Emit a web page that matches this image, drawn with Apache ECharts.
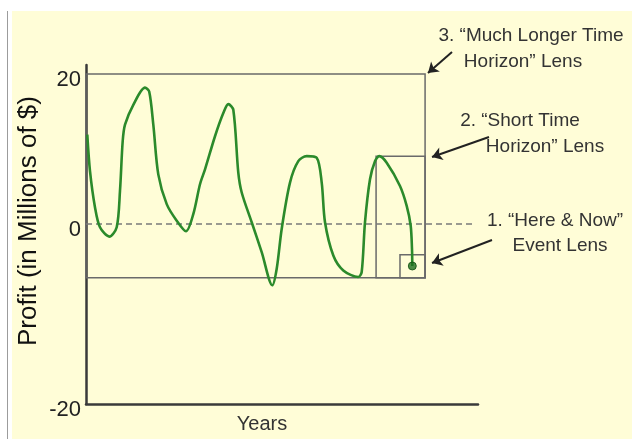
<!DOCTYPE html>
<html><head><meta charset="utf-8">
<script src="https://cdn.jsdelivr.net/npm/echarts@6/dist/echarts.min.js"></script>
<style>html,body{margin:0;padding:0;background:#fff}#c{width:632px;height:439px}</style>
</head><body><div id="c"></div><script>
// Curve: years (arbitrary units along axis) and profit (millions $)
const years = [0.33,1.02,2.30,3.57,5.94,7.83,8.67,9.36,9.95,12.07,15.05,16.12,17.17,18.44,20.59,23.14,25.51,27.37,29.08,30.36,32.91,35.03,36.30,37.58,38.85,39.72,42.27,44.82,47.53,48.65,49.92,52.04,54.16,56.30,58.85,60.13,60.97,63.09,65.64,69.46,70.33,71.17,72.45,73.72,74.82,76.71,80.10,81.81,82.83,83.16,83.24];
const profit = [11.92,7.06,2.21,-0.44,-1.68,-0.44,4.41,11.03,13.25,15.89,18.19,17.66,13.25,6.62,2.65,0.44,-0.97,1.32,5.30,7.28,11.70,14.79,15.99,15.23,6.85,4.20,0.23,-3.75,-8.17,-5.96,-0.66,5.52,8.38,9.05,8.83,5.52,0.23,-4.20,-6.19,-7.06,-6.40,0.23,5.96,8.38,9.05,8.17,5.07,2.42,-0.23,-3.31,-5.60];

// Y axis tick values / labels (schematic axis)
const yTickValues = [20, 0, -24];
const yTickLabels = ['20', '0', '-20'];

// Lens boxes
const lensX0 = [0, 74.0, 80.1];
const lensX1 = [86.5, 86.5, 86.5];
const lensY0 = [-7.15, -7.15, -7.15];
const lensY1 = [20, 9.05, -4.1];

// Zero reference line
const zeroLineEnd = 98.7;

// Arrows (annotation overlay coordinates)
const arrowFromX = [93.37, 102.81, 103.57];
const arrowFromY = [22.91, 11.66, -1.99];
const arrowToX = [87.24, 88.27, 88.27];
const arrowToY = [20.13, 9.01, -5.03];

// Annotation texts
const noteLines = ['3. \u201cMuch Longer Time', 'Horizon\u201d Lens', '2. \u201cShort Time', 'Horizon\u201d Lens', '1. \u201cHere & Now\u201d', 'Event Lens'];
const noteX = [531, 523, 520, 545, 555, 560];
const noteY = [36, 62, 121, 147, 221, 246];

const curve = years.map((x, i) => [x, profit[i]]);
const last = curve[curve.length - 1];

const chart = echarts.init(document.getElementById('c'), null, {renderer: 'canvas'});
const FONT = '"Liberation Sans", Arial, sans-serif';

const graphics = [
  {type: 'rect', shape: {x: 12, y: 11, width: 620, height: 428}, style: {fill: '#FFFDD7'}, z: -10, silent: true},
  {type: 'rect', shape: {x: 7, y: 11, width: 1, height: 428}, style: {fill: '#9c9c9c'}, z: -10, silent: true}
];
noteLines.forEach((t, i) => {
  graphics.push({type: 'text', x: noteX[i], y: noteY[i], style: {text: t, font: '19px ' + FONT, fill: '#333', align: 'center', verticalAlign: 'middle'}, silent: true});
});

chart.setOption({
  animation: false,
  backgroundColor: '#ffffff',
  graphic: graphics,
  grid: [
    {left: 86, top: 65, width: 392, height: 341, containLabel: false},
    {left: 86, top: 0, right: 0, bottom: 0, containLabel: false}
  ],
  xAxis: [
    {type: 'value', gridIndex: 0, min: 0, max: 100,
     name: 'Years', nameLocation: 'middle', nameGap: 10,
     nameTextStyle: {fontFamily: FONT, fontSize: 20, color: '#333', padding: [0, 40, 0, 0]},
     axisLine: {show: true, onZero: false, lineStyle: {color: '#3a3a3a', width: 2.5}},
     axisTick: {show: false}, axisLabel: {show: false}, splitLine: {show: false}},
    {type: 'value', gridIndex: 1, min: 0, max: 139.29, show: false}
  ],
  yAxis: [
    {type: 'value', gridIndex: 0, min: -24, max: 21.2,
     name: 'Profit (in Millions of $)', nameLocation: 'middle', nameGap: 44, nameMoveOverlap: false,
     nameTextStyle: {fontFamily: FONT, fontSize: 26, color: '#111', padding: [0, 0, 0, 27]},
     axisLine: {show: true, onZero: false, lineStyle: {color: '#3a3a3a', width: 2.5}},
     axisTick: {show: false},
     axisLabel: {show: true, customValues: yTickValues, margin: 5, fontFamily: FONT, fontSize: 22, color: '#222',
       verticalAlign: 'top', lineHeight: 12,
       formatter: v => { const k = yTickValues.indexOf(v); return k >= 0 ? yTickLabels[k] : ''; }},
     splitLine: {show: false}},
    {type: 'value', gridIndex: 1, min: -28.34, max: 29.80, show: false}
  ],
  series: [
    {type: 'line', name: 'lenses', xAxisIndex: 0, yAxisIndex: 0, data: [], silent: true,
     markArea: {silent: true, itemStyle: {color: 'rgba(0,0,0,0)', borderColor: '#6a6a6a', borderWidth: 1.5},
       label: {show: false},
       data: lensX0.map((x0, i) => [{coord: [x0, lensY1[i]]}, {coord: [lensX1[i], lensY0[i]]}])},
     markLine: {silent: true, symbol: ['none', 'none'], label: {show: false},
       lineStyle: {color: '#7a7a7a', width: 1.5, type: [6, 4]},
       data: [[{coord: [0, 0]}, {coord: [zeroLineEnd, 0]}]]}},
    {type: 'line', name: 'Profit', xAxisIndex: 0, yAxisIndex: 0, data: curve, smooth: 0.3, symbol: 'none',
     lineStyle: {color: '#2b8a2b', width: 2.6}, z: 5},
    {type: 'scatter', name: 'Now', xAxisIndex: 0, yAxisIndex: 0, data: [last], symbolSize: 8,
     itemStyle: {color: '#1e6e1e', borderColor: '#0f4f0f', borderWidth: 1}, z: 6},
    {type: 'line', name: 'arrows', xAxisIndex: 1, yAxisIndex: 1, data: [], silent: true, clip: false,
     markLine: {silent: true, symbol: ['none', 'arrow'], symbolSize: 10, label: {show: false},
       itemStyle: {color: '#222'},
       lineStyle: {color: '#222', width: 2, type: 'solid'},
       data: arrowFromX.map((x, i) => [{coord: [x, arrowFromY[i]]}, {coord: [arrowToX[i], arrowToY[i]]}])}}
  ]
});
</script></body></html>
